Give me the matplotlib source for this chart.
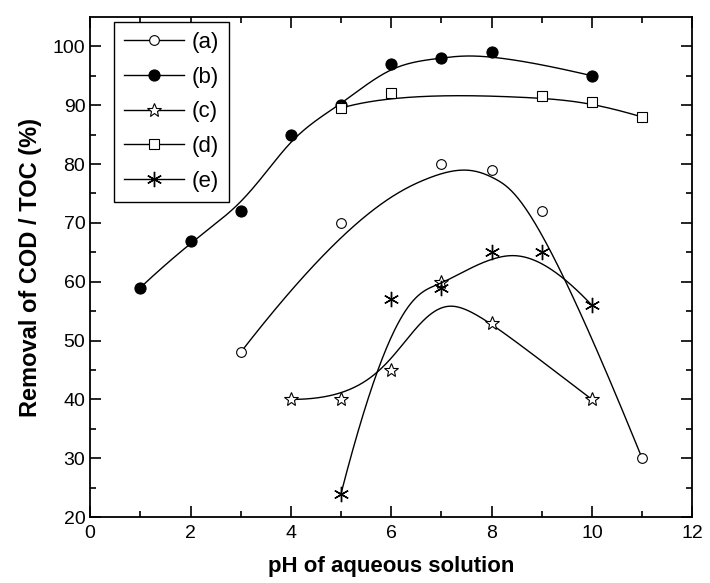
import matplotlib
matplotlib.use('Agg')
import matplotlib.pyplot as plt
import numpy as np

plt.rcParams['font.family'] = ['Liberation Sans', 'DejaVu Sans']

# pH values and removal (%) for each series
ph_a = [3, 5, 7, 8, 9, 11]
rem_a = [48, 70, 80, 79, 72, 30]
ph_b = [1, 2, 3, 4, 5, 6, 7, 8, 10]
rem_b = [59, 67, 72, 85, 90, 97, 98, 99, 95]
ph_c = [4, 5, 6, 7, 8, 10]
rem_c = [40, 40, 45, 60, 53, 40]
ph_d = [5, 6, 9, 10, 11]
rem_d = [89.5, 92, 91.5, 90.5, 88]
ph_e = [5, 6, 7, 8, 9, 10]
rem_e = [24, 57, 59, 65, 65, 56]

labels = ['(a)', '(b)', '(c)', '(d)', '(e)']


# clamped cubic B-spline using data points as control points (Origin-style connect)
def bspline(xs, ys, k=3, n=300):
    P = np.column_stack([xs, ys]).astype(float)
    m = len(P)
    k = min(k, m - 1)
    knots = np.concatenate([np.zeros(k), np.linspace(0, 1, m - k + 1), np.ones(k)])
    t = np.linspace(0, 1, n)
    t[-1] = 1 - 1e-9

    def basis(i, p, u):
        if p == 0:
            return np.where((knots[i] <= u) & (u < knots[i + 1]), 1.0, 0.0)
        out = np.zeros_like(u)
        d1 = knots[i + p] - knots[i]
        d2 = knots[i + p + 1] - knots[i + 1]
        if d1 > 0:
            out += (u - knots[i]) / d1 * basis(i, p - 1, u)
        if d2 > 0:
            out += (knots[i + p + 1] - u) / d2 * basis(i + 1, p - 1, u)
        return out

    curve = np.zeros((n, 2))
    for i in range(m):
        curve += basis(i, k, t)[:, None] * P[i]
    return curve[:, 0], curve[:, 1]


fig = plt.figure(figsize=(7.1, 5.83), dpi=100)
ax = fig.add_axes([0.127, 0.113, 0.848, 0.858])

series = [
    (ph_a, rem_a, dict(marker='o', mfc='white', ms=7, mew=0.8)),
    (ph_b, rem_b, dict(marker='o', mfc='black', ms=8, mew=0.8)),
    (ph_c, rem_c, dict(marker='*', mfc='white', ms=10, mew=0.8)),
    (ph_d, rem_d, dict(marker='s', mfc='white', ms=6.5, mew=0.8)),
    (ph_e, rem_e, dict(marker=(6, 2, 0), mfc='black', ms=11, mew=1.0)),
]

for (x, y, st), lab in zip(series, labels):
    cx, cy = bspline(x, y)
    ax.plot(cx, cy, color='black', lw=1.0)
    ax.plot(x, y, linestyle='none', color='black', mec='black', **st)
    ax.plot([], [], color='black', lw=1.0, mec='black', label=lab, **st)

ax.set_xlim(0, 12)
ax.set_ylim(20, 105)
ax.set_xticks(np.arange(0, 13, 2))
ax.set_xticks(np.arange(1, 12, 2), minor=True)
ax.set_yticks(np.arange(20, 101, 10))
ax.set_yticks(np.arange(25, 105, 10), minor=True)
ax.tick_params(which='both', direction='in', top=True, right=True, labelsize=14, width=1.2)
ax.tick_params(which='major', length=8)
ax.tick_params(which='minor', length=4.5)
ax.tick_params(axis='x', pad=6)
for s in ax.spines.values():
    s.set_linewidth(1.3)

ax.set_xlabel('pH of aqueous solution', fontsize=16, fontweight='bold', labelpad=10)
ax.set_ylabel('Removal of COD / TOC (%)', fontsize=17, fontweight='bold', labelpad=8)

leg = ax.legend(loc='upper left', bbox_to_anchor=(0.04, 0.99), borderaxespad=0,
                fontsize=16, handlelength=2.7, labelspacing=0.62, fancybox=False,
                edgecolor='black', framealpha=1, borderpad=0.45, handletextpad=0.35)
leg.get_frame().set_linewidth(1.0)

fig.savefig('out.png', dpi=100)
